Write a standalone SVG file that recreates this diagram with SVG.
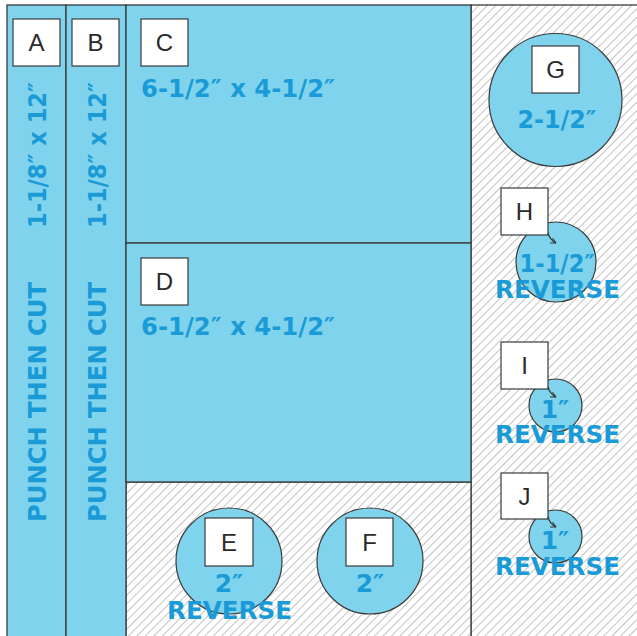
<svg xmlns="http://www.w3.org/2000/svg" width="637" height="636" viewBox="0 0 637 636">
<defs>
<pattern id="hatch" patternUnits="userSpaceOnUse" width="6" height="6" patternTransform="rotate(45)">
<rect width="6" height="6" fill="#ffffff"/>
<line x1="0" y1="0" x2="0" y2="6" stroke="#b4b4b4" stroke-width="1.6"/>
</pattern>
<marker id="ah" viewBox="0 0 10 10" refX="9" refY="5" markerWidth="6" markerHeight="6" orient="auto">
<path d="M1,1 L9,5 L1,9" fill="none" stroke="#333" stroke-width="1.6"/>
</marker>
<style>
.panel{fill:#7fd3ec;stroke:#3a3a3a;stroke-width:1.3}
.circ{fill:#7fd3ec;stroke:#3a3a3a;stroke-width:1.2}
.box{fill:#ffffff;stroke:#3a3a3a;stroke-width:1.2}
.lbl{font-family:"Liberation Sans",Arial,sans-serif;font-size:24px;fill:#2a2a2a;text-anchor:middle}
.blue{font-family:"DejaVu Sans","Liberation Sans",sans-serif;font-weight:bold;font-size:25px;fill:#1a9bd7}
.mid{text-anchor:middle}
.conn{fill:none;stroke:#333;stroke-width:1.1}
</style>
</defs>
<rect x="0" y="0" width="637" height="636" fill="#ffffff"/>
<rect x="471" y="5" width="170" height="635" fill="url(#hatch)" stroke="#3a3a3a" stroke-width="1.3"/>
<rect x="126" y="482" width="345" height="158" fill="url(#hatch)" stroke="#3a3a3a" stroke-width="1.3"/>

<g id="A">
<rect class="panel" x="7" y="5" width="59" height="635"/>
<rect class="box" x="13" y="19" width="47" height="47"/>
<text class="lbl" x="36.5" y="51">A</text>
<text class="blue mid" transform="translate(46,155) rotate(-90)" textLength="146" lengthAdjust="spacingAndGlyphs">1-1/8″ x 12″</text>
<text class="blue mid" transform="translate(46,402) rotate(-90)" textLength="240" lengthAdjust="spacingAndGlyphs">PUNCH THEN CUT</text>
</g>
<g id="B">
<rect class="panel" x="66" y="5" width="60" height="635"/>
<rect class="box" x="72" y="19" width="47" height="47"/>
<text class="lbl" x="95.5" y="51">B</text>
<text class="blue mid" transform="translate(106,155) rotate(-90)" textLength="146" lengthAdjust="spacingAndGlyphs">1-1/8″ x 12″</text>
<text class="blue mid" transform="translate(106,402) rotate(-90)" textLength="240" lengthAdjust="spacingAndGlyphs">PUNCH THEN CUT</text>
</g>
<g id="C">
<rect class="panel" x="126" y="5" width="345" height="238"/>
<rect class="box" x="141" y="19" width="47" height="47"/>
<text class="lbl" x="164.5" y="51">C</text>
<text class="blue" x="141" y="97" textLength="194" lengthAdjust="spacingAndGlyphs">6-1/2″ x 4-1/2″</text>
</g>
<g id="D">
<rect class="panel" x="126" y="243" width="345" height="239"/>
<rect class="box" x="141" y="258" width="47" height="47"/>
<text class="lbl" x="164.5" y="290">D</text>
<text class="blue" x="141" y="335" textLength="194" lengthAdjust="spacingAndGlyphs">6-1/2″ x 4-1/2″</text>
</g>
<g id="E">
<circle class="circ" cx="229" cy="561" r="53"/>
<rect class="box" x="205" y="518" width="48" height="48"/>
<text class="lbl" x="229" y="550.5">E</text>
<text class="blue mid" x="229" y="592">2″</text>
<text class="blue mid" x="229.5" y="619" textLength="125" lengthAdjust="spacingAndGlyphs">REVERSE</text>
</g>
<g id="F">
<circle class="circ" cx="370" cy="561" r="53"/>
<rect class="box" x="346" y="518" width="47" height="48"/>
<text class="lbl" x="369.5" y="550.5">F</text>
<text class="blue mid" x="370" y="592">2″</text>
</g>
<g id="G">
<circle class="circ" cx="555.5" cy="100" r="66.5"/>
<rect class="box" x="532" y="46" width="47" height="47"/>
<text class="lbl" x="555.5" y="78">G</text>
<text class="blue mid" x="557" y="128" textLength="79" lengthAdjust="spacingAndGlyphs">2-1/2″</text>
</g>
<g id="H">
<circle class="circ" cx="556" cy="262" r="40"/>
<rect class="box" x="501" y="188" width="47" height="47"/>
<text class="lbl" x="524.5" y="220">H</text>
<text class="blue mid" x="557" y="272" textLength="75" lengthAdjust="spacingAndGlyphs">1-1/2″</text>
<text class="blue mid" x="557.5" y="298" textLength="125" lengthAdjust="spacingAndGlyphs">REVERSE</text>
</g>
<g id="I">
<circle class="circ" cx="555.5" cy="405.5" r="26.5"/>
<rect class="box" x="501" y="342" width="47" height="47"/>
<text class="lbl" x="524.5" y="374">I</text>
<text class="blue mid" x="555" y="418">1″</text>
<text class="blue mid" x="557.5" y="443" textLength="125" lengthAdjust="spacingAndGlyphs">REVERSE</text>
</g>
<g id="J">
<circle class="circ" cx="555.5" cy="536.5" r="26.5"/>
<rect class="box" x="501" y="473" width="47" height="46"/>
<text class="lbl" x="524.5" y="504.5">J</text>
<text class="blue mid" x="555" y="549">1″</text>
<text class="blue mid" x="557.5" y="575" textLength="125" lengthAdjust="spacingAndGlyphs">REVERSE</text>
</g>
<g id="connectors">
<path class="conn" d="M548,233 Q550,240 556,243" marker-end="url(#ah)"/>
<path class="conn" d="M548,387 Q550,394 556,397" marker-end="url(#ah)"/>
<path class="conn" d="M548,517 Q550,524 556,527" marker-end="url(#ah)"/>
</g>
</svg>
